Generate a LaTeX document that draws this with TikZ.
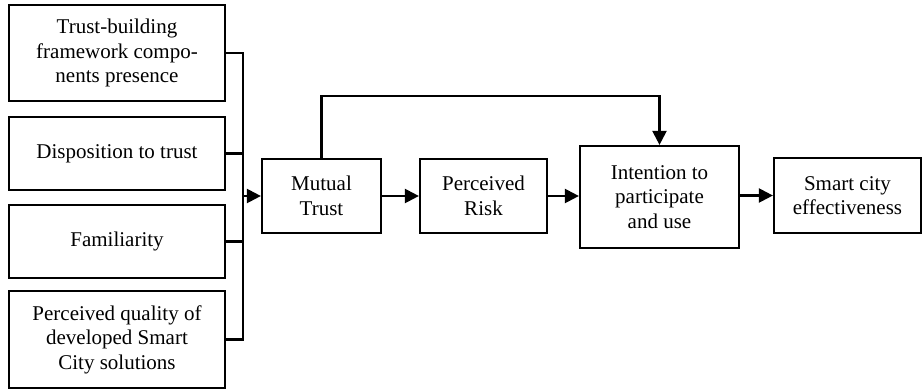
\documentclass[tikz,border=0pt]{standalone}
\usepackage{fontspec}
\setmainfont{Liberation Serif}
\usetikzlibrary{arrows.meta}
\begin{document}
\begin{tikzpicture}[x=1pt,y=-1pt,
  box/.style={draw,line width=2.2pt,inner sep=0pt,align=center,
    font=\fontsize{21}{24.5}\selectfont},
  conn/.style={line width=2.2pt},
  arr/.style={line width=2.2pt,-{Triangle[length=14pt,width=14pt]}}]
\useasboundingbox (0,0) rectangle (922,389);
\node[box,minimum width=216pt,minimum height=96pt] (b1) at (117,53) {Trust-building\\framework compo-\\nents presence};
\node[box,minimum width=216pt,minimum height=73pt] (b2) at (117,153.5) {Disposition to trust};
\node[box,minimum width=216pt,minimum height=73pt] (b3) at (117,241.5) {Familiarity};
\node[box,minimum width=216pt,minimum height=97pt] (b4) at (117,339.5) {Perceived quality of\\developed Smart\\City solutions};
\node[box,minimum width=119pt,minimum height=74pt] (mt) at (321.5,196) {Mutual\\Trust};
\node[box,minimum width=127pt,minimum height=74pt] (pr) at (483.5,196) {Perceived\\Risk};
\node[box,minimum width=159pt,minimum height=102pt] (in) at (659.5,197) {Intention to\\participate\\and use};
\node[box,minimum width=147pt,minimum height=75pt] (sc) at (847.5,195.5) {Smart city\\effectiveness};
\coordinate (bus) at (243,196);
\draw[conn] (b1.east) -| (bus);
\draw[conn] (b2.east) -| (bus);
\draw[conn] (b3.east) -| (bus);
\draw[conn] (b4.east) -| (bus);
\draw[arr] (bus) -- (mt.west);
\draw[arr] (mt.east) -- (pr.west);
\draw[arr] (pr.east) -- (in.west |- pr.east);
\draw[arr] (in.east |- sc.west) -- (sc.west);
\draw[arr] (mt.north) -- ++(0,-62) -| (in.north);
\end{tikzpicture}
\end{document}
